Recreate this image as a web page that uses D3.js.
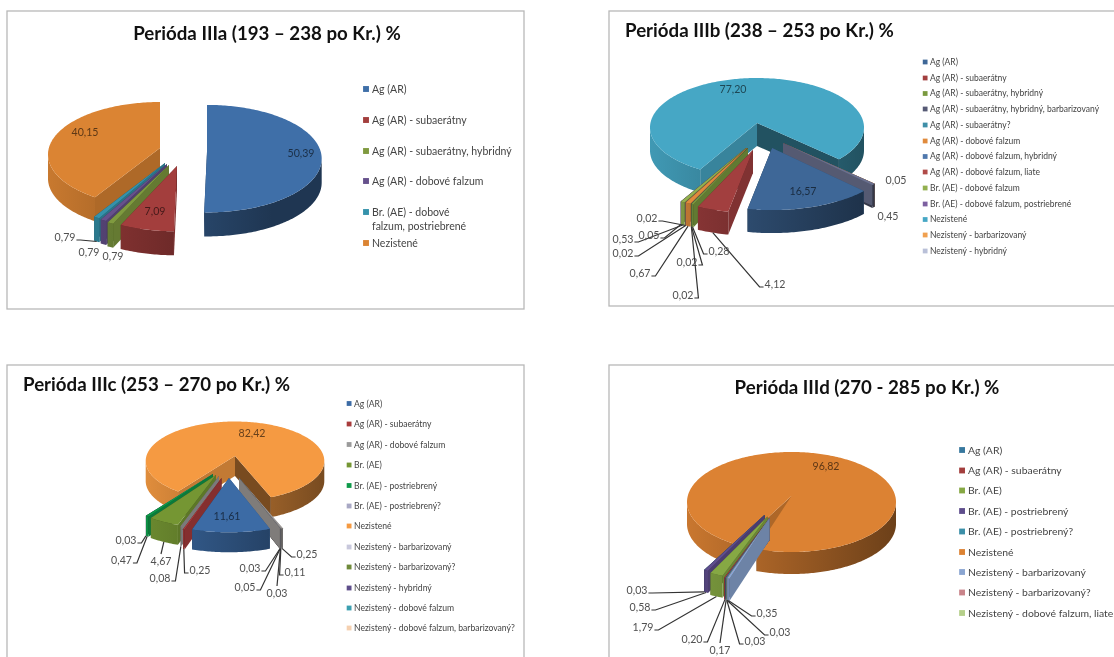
<!DOCTYPE html>
<html><head><meta charset="utf-8">
<script src="https://cdn.jsdelivr.net/npm/d3@7/dist/d3.min.js"></script>
<style>html,body{margin:0;padding:0;background:#fff;overflow:hidden}svg{display:block;filter:blur(0.35px)}text{font-family:Lato,"Noto Sans",sans-serif}</style>
</head><body><svg id="c" width="1114" height="657"></svg>
<script>
// ---------- DATA ----------
const titleA = "Perióda IIIa (193 – 238 po Kr.) %";
const categoriesA = ["Ag (AR)","Ag (AR) - subaerátny","Ag (AR) - subaerátny, hybridný","Ag (AR) - dobové falzum","Br. (AE) - dobové|falzum, postriebrené","Nezistené"];
const valuesA = [50.39,7.09,0.79,0.79,0.79,40.15];
const colorsA = ["#3f6fa8","#a33e3d","#7f9a3f","#66518c","#3592ab","#db8433"];

const titleB = "Perióda IIIb (238 – 253 po Kr.) %";
const categoriesB = ["Ag (AR)","Ag (AR) - subaerátny","Ag (AR) - subaerátny, hybridný","Ag (AR) - subaerátny, hybridný, barbarizovaný","Ag (AR) - subaerátny?","Ag (AR) - dobové falzum","Ag (AR) - dobové falzum, hybridný","Ag (AR) - dobové falzum, liate","Br. (AE) - dobové falzum","Br. (AE) - dobové falzum, postriebrené","Nezistené","Nezistený - barbarizovaný","Nezistený - hybridný"];
const valuesB = [16.57,4.12,0.28,0.02,0.02,0.67,0.02,0.02,0.53,0.05,77.20,0.05,0.45];
const colorsB = ["#3e6797","#a23f3f","#7a9a3f","#565a75","#3f8fa8","#e08a3c","#4f78ad","#b04a48","#93b04f","#7d60a0","#46a7c5","#e08a3c","#6b7190"];
const swatchesB = ["#3e6797","#a23f3f","#7a9a3f","#565a75","#3f8fa8","#e08a3c","#4f78ad","#b04a48","#93b04f","#7d60a0","#46a7c5","#f0a050","#b9c0d8"];

const titleC = "Perióda IIIc (253 – 270 po Kr.) %";
const categoriesC = ["Ag (AR)","Ag (AR) - subaerátny","Ag (AR) - dobové falzum","Br. (AE)","Br. (AE) - postriebrený","Br. (AE) - postriebrený?","Nezistené","Nezistený - barbarizovaný","Nezistený - barbarizovaný?","Nezistený - hybridný","Nezistený - dobové falzum","Nezistený - dobové falzum, barbarizovaný?"];
const valuesC = [11.61,0.25,0.08,4.67,0.47,0.03,82.42,0.25,0.11,0.03,0.05,0.03];
const colorsC = ["#3c6ba5","#a83b3b","#9a9a9a","#759633","#0e9a4a","#b3b3cc","#f59a42","#a09c9a","#8f8f8f","#6a6a80","#8f8f8f","#a09c9a"];
const swatchesC = ["#3c6ba5","#a83b3b","#9a9a9a","#759633","#0e9a4a","#a8a8c4","#f59a42","#c8c8dc","#6f8a3a","#5d4d8a","#3b9fb0","#f5d0b0"];

const titleD = "Perióda IIId (270 - 285 po Kr.) %";
const categoriesD = ["Ag (AR)","Ag (AR) - subaerátny","Br. (AE)","Br. (AE) - postriebrený","Br. (AE) - postriebrený?","Nezistené","Nezistený - barbarizovaný","Nezistený - barbarizovaný?","Nezistený - dobové falzum, liate"];
const valuesD = [0.17,0.20,1.79,0.58,0.03,96.82,0.35,0.03,0.03];
const colorsD = ["#37789e","#a33e3d","#86a844","#5e4d8c","#3b8fa8","#dc8233","#8aa5d1","#c9848a","#b5cf8a"];

// ---------- LAYOUT ----------
const explodeA = [[47,4],[17,18],[9,17],[7,16],[5,15],[0,0]];
const explodeB = [[15,25],[-4,27],[-9,25],[-9,25],[-9,25],[-10,25],[-10,25],[-10,25],[-11,25],[-11,25],[0,0],[26,20],[26,20]];
const explodeC = [[-6,22],[-13.5,22],[-16,20],[-19,19],[-22,18],[-22,18],[0,0],[4,22],[4,22],[4,22],[4,22],[4,22]];
const explodeD = [[-22,22],[-22,22],[-24,20.5],[-27,19],[-27,19],[0,0],[-22,22],[-22,22],[-22,22]];
// label centre x, y, leader side: 0 none, 1 leaves text on its right, -1 on its left, 2 from its top
const labelsA = [[301,153,0],[155,211,0],[113,256,0],[89,252,0],[65,237,1],[85,132,0]];
const labelsB = [[803,191,0],[775,284,-1],[719,251,-1],[687,262,1],[683,295,1],[640,273,1],[623,253,1],[647,218,1],[623,239,1],[649,235,1],[733,89,0],[896,180,0],[888,216,0]];
const labelsC = [[227,516,0],[200,570,-1],[160,578,1],[161,561,2],[121.5,560,1],[126,540,1],[252,433,0],[307,554,-1],[295,572,-1],[277,593,2],[245,587,1],[250,568,1]];
const labelsD = [[720,650,2],[692,639,1],[643,627,1],[640,607,1],[637,590,1],[826,466,0],[767,613,-1],[780,632,-1],[755,641,-1]];

const charts = [
 {title:titleA,cats:categoriesA,vals:valuesA,cols:colorsA,sw:colorsA,exp:explodeA,lab:labelsA,
  frame:[7,11,517,298],tx:267,ty:40,ta:"middle",cx:160,cy:148,rx:112,ry:52.5,d:6.5,depth:24,persp:.006,start:0,
  lx:372,ly:[89,120,151,181,212,243],lf:10.5},
 {title:titleB,cats:categoriesB,vals:valuesB,cols:colorsB,sw:swatchesB,exp:explodeB,lab:labelsB,
  frame:[609,11,520,295],tx:625,ty:37,ta:"start",cx:757,cy:123,rx:107,ry:49.5,d:4.5,depth:23,persp:.006,start:131.8,
  lx:930,ly:[62,78,93.5,109,125,141,156.5,172,188,204,219.5,235,251],lf:8.5},
 {title:titleC,cats:categoriesC,vals:valuesC,cols:colorsC,sw:swatchesC,exp:explodeC,lab:labelsC,
  frame:[7,365,517,310],tx:23,ty:391,ta:"start",cx:235,cy:456,rx:89.3,ry:39.5,d:5,depth:20,persp:.01,start:158,
  lx:354,ly:[403.5,424,444.5,465,485.5,506,526,547,567,588,608,628],lf:8.6},
 {title:titleD,cats:categoriesD,vals:valuesD,cols:colorsD,sw:colorsD,exp:explodeD,lab:labelsD,
  frame:[609,365,520,310],tx:867,ty:394,ta:"middle",cx:791.5,cy:496,rx:104.5,ry:50,d:6,depth:22,persp:.0065,start:201,
  lx:968,ly:[450,470.5,490.5,511,531.5,552,572,592.5,613],lf:10.4}
];

// ---------- DRAW ----------
const svg = d3.select("#c"), defs = svg.append("defs");
const line = d3.line();
const fmt = v => d3.format(".2f")(v).replace(".",",");
let gid = 0;

charts.forEach(ch => {
  const g = svg.append("g");
  g.append("rect").attr("x",ch.frame[0]).attr("y",ch.frame[1]).attr("width",ch.frame[2]).attr("height",ch.frame[3])
    .attr("fill","#fff").attr("stroke","#b8b8b8").attr("stroke-width",1.3);
  g.append("text").attr("x",ch.tx).attr("y",ch.ty).attr("text-anchor",ch.ta)
    .attr("font-size",18.7).attr("font-weight",700).attr("fill","#111").text(ch.title);

  const rad = d3.scaleLinear().domain([0,360]).range([0,2*Math.PI]);
  const arcs = d3.pie().sort(null).value(d=>d).startAngle(rad(ch.start)).endAngle(rad(ch.start+360))(ch.vals);

  const slices = arcs.map((a,i) => {
    const [ox,oy] = ch.exp[i], s = 1+ch.persp*oy, ax = ch.cx+ox, ay = ch.cy+oy;
    const pt = (t,z=0) => [ax+ch.rx*s*Math.sin(t), ay+s*(ch.d-ch.ry*Math.cos(t))+z];
    const mid = (a.startAngle+a.endAngle)/2;
    return {a,i,ax,ay,pt,mid,color:ch.cols[i],key:ay-Math.cos(mid)*ch.ry};
  }).sort((p,q)=>p.key-q.key);

  const pie = g.append("g");
  slices.forEach(sl => {
    const {a,pt,ax,ay,color} = sl;
    const c = d3.color(color);
    const sg = pie.append("g");
    const wall = (t,fill) => {
      const e0 = pt(t), e1 = pt(t,ch.depth);
      sg.append("path").attr("d",line([[ax,ay],e0,e1,[ax,ay+ch.depth]])+"Z").attr("fill",fill);
    };
    wall(a.endAngle, c.darker(2).formatHex());
    wall(a.startAngle, c.darker(.65).formatHex());

    // outer wall: visible where the rim faces the viewer
    const id = "grad"+(gid++);
    const gr = defs.append("linearGradient").attr("id",id).attr("gradientUnits","userSpaceOnUse")
      .attr("x1",ch.cx-ch.rx).attr("x2",ch.cx+ch.rx).attr("y1",0).attr("y2",0);
    [[0,.25],[.45,.9],[1,2]].forEach(([o,k])=>gr.append("stop").attr("offset",o).attr("stop-color",c.darker(k).formatHex()));
    const step = rad(1);
    for (let k=-1;k<=2;k++){
      const lo = Math.max(a.startAngle, Math.PI/2+k*2*Math.PI), hi = Math.min(a.endAngle, 3*Math.PI/2+k*2*Math.PI);
      if (hi<=lo) continue;
      const ts = d3.range(lo,hi,step).concat([hi]);
      const pts = ts.map(t=>pt(t)).concat(ts.slice().reverse().map(t=>pt(t,ch.depth)));
      sg.append("path").attr("d",line(pts)+"Z").attr("fill","url(#"+id+")");
    }
    // top face
    const ts = d3.range(a.startAngle,a.endAngle,step).concat([a.endAngle]);
    sg.append("path").attr("d",line([[ax,ay],...ts.map(t=>pt(t))])+"Z").attr("fill",color);
  });

  // labels and leader lines
  const lg = g.append("g");
  const byIndex = new Map(slices.map(s=>[s.i,s]));
  ch.lab.forEach((l,i) => {
    const [x,y,side] = l, sl = byIndex.get(i);
    const inside = side===0 && ch.vals[i]>5;
    const t = lg.append("text").attr("x",x).attr("y",y).attr("dy",".35em").attr("text-anchor","middle")
      .attr("font-size",10.6).attr("fill",inside?d3.color(sl.color).darker(2.4).formatHex():"#505050").text(fmt(ch.vals[i]));
    if (side===0) return;
    const w = t.node().getComputedTextLength()/2;
    const tgt = sl.pt(sl.mid,ch.depth);
    let pts;
    if (side===2) pts=[[x,y-7],tgt];
    else { const x0=x+side*(w+1), x1=x0+side*4; pts=[[x0,y+3],[x1,y+3],tgt]; }
    lg.append("path").attr("d",line(pts)).attr("fill","none").attr("stroke","#333").attr("stroke-width",1.2);
  });

  // legend
  const lf = ch.lf;
  ch.cats.forEach((c,i) => {
    const y = ch.ly[i], parts = c.split("|");
    g.append("rect").attr("x",ch.lx-lf*.85).attr("y",y-lf*.28).attr("width",lf*.56).attr("height",lf*.56).attr("fill",ch.sw[i]);
    parts.forEach((p,j)=>g.append("text").attr("x",ch.lx).attr("y",y+j*14).attr("dy",".35em")
      .attr("font-size",lf).attr("fill","#444").text(p));
  });
});
</script></body></html>
